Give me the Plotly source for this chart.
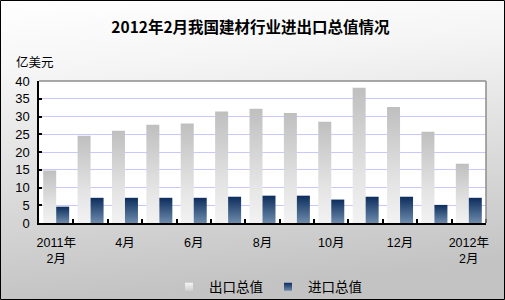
import base64
import plotly.graph_objects as go

# ---- data ----
months = ["2011年<br>2月", "3月", "4月", "5月", "6月", "7月", "8月", "9月",
          "10月", "11月", "12月", "2012年1月", "2012年<br>2月"]
tick_labels = ["2011年<br>2月", "", "4月", "", "6月", "", "8月", "", "10月", "", "12月", "", "2012年<br>2月"]
export_vals = [14.8, 24.6, 26.0, 27.7, 28.0, 31.4, 32.2, 31.0, 28.5, 38.1, 32.7, 25.7, 16.7]
import_vals = [4.6, 7.1, 7.1, 7.1, 7.1, 7.4, 7.7, 7.7, 6.6, 7.4, 7.4, 5.1, 7.1]
series_names = ["出口总值", "进口总值"]

FONT = "Liberation Sans, Arial, Noto Sans CJK SC, sans-serif"
BAR_W = 0.378
export_scale = [[0, "#f2f2f2"], [0.35, "#e4e4e4"], [1, "#bfbfbf"]]
import_scale = [[0, "#6e8bab"], [1, "#0c2d5d"]]

fig = go.Figure()

idx = list(range(len(months)))
for i, v in zip(idx, export_vals):
    fig.add_trace(go.Scatter(
        x=[i - BAR_W, i - BAR_W, i, i, i - BAR_W], y=[0, v, v, 0, 0],
        mode="none", fill="toself", showlegend=False, hoverinfo="skip",
        fillgradient=dict(type="vertical", colorscale=export_scale)))
for i, v in zip(idx, import_vals):
    fig.add_trace(go.Scatter(
        x=[i, i, i + BAR_W, i + BAR_W, i], y=[0, v, v, 0, 0],
        mode="none", fill="toself", showlegend=False, hoverinfo="skip",
        fillgradient=dict(type="vertical", colorscale=import_scale)))

# legend entries
fig.add_trace(go.Scatter(x=[None], y=[None], mode="markers", name=series_names[0],
                         marker=dict(symbol="square", size=8, color="#f4f4f4",
                                     gradient=dict(type="vertical", color="#d0d0d0"),
                                     line=dict(width=0))))
fig.add_trace(go.Scatter(x=[None], y=[None], mode="markers", name=series_names[1],
                         marker=dict(symbol="square", size=8, color="#0c2d5d",
                                     gradient=dict(type="vertical", color="#6e8bab"),
                                     line=dict(width=0))))

# background gradient via svg image
L, T, W, H = 39, 81, 447, 142
svg = ('<svg xmlns="http://www.w3.org/2000/svg" width="505" height="300">'
       '<defs><linearGradient id="g" x1="0" y1="0" x2="0.15" y2="1">'
       '<stop offset="0" stop-color="#ffffff"/><stop offset="0.25" stop-color="#f5f5f5"/>'
       '<stop offset="1" stop-color="#c3c3c3"/></linearGradient></defs>'
       '<rect width="505" height="300" fill="url(#g)"/></svg>')
src = "data:image/svg+xml;base64," + base64.b64encode(svg.encode()).decode()

def px_x(p):
    return (p - L) / W

def px_y(p):
    return 1 - (p - T) / H

fig.add_layout_image(dict(source=src, xref="paper", yref="paper",
                          x=px_x(0), y=px_y(0), sizex=505 / W, sizey=300 / H,
                          xanchor="left", yanchor="top", sizing="stretch", layer="below"))

shapes = [
    dict(type="rect", xref="paper", yref="paper", x0=0, x1=1, y0=0, y1=1,
         fillcolor="white", line=dict(width=0), layer="below"),
    dict(type="line", xref="paper", yref="paper", x0=0, x1=1, y0=1, y1=1,
         line=dict(color="#8c8c8c", width=1.5)),
    dict(type="line", xref="paper", yref="paper", x0=1, x1=1, y0=0, y1=1,
         line=dict(color="#8c8c8c", width=1.5)),
    dict(type="rect", xref="paper", yref="paper", x0=px_x(0.5), x1=px_x(504.5),
         y0=px_y(0.5), y1=px_y(299.5), line=dict(color="black", width=1)),
]

fig.update_layout(
    width=505, height=300,
    margin=dict(l=L, r=505 - L - W, t=T, b=300 - T - H, autoexpand=False),
    paper_bgcolor="white", plot_bgcolor="white",
    font=dict(family=FONT, size=12, color="black"),
    title=dict(text="<b>2012年2月我国建材行业进出口总值情况</b>", xref="container", x=0.496,
               xanchor="center", y=1 - 28 / 300, yanchor="middle",
               font=dict(family="Noto Sans CJK SC, sans-serif", size=15.5, color="black")),
    showlegend=True,
    legend=dict(orientation="h", xref="paper", x=px_x(268), xanchor="center",
                y=px_y(287), yanchor="middle", bgcolor="rgba(0,0,0,0)",
                font=dict(size=13.5, family="Noto Sans CJK SC, sans-serif"),
                itemwidth=30, tracegroupgap=0),
    xaxis=dict(range=[-0.5, len(months) - 0.5], tickmode="array", tickvals=idx,
               ticktext=tick_labels, ticks="", showgrid=False, zeroline=False,
               showline=True, linecolor="black", linewidth=1.5,
               tickfont=dict(size=12.5), tickangle=0, automargin=False, ticklabelstandoff=7,
               minor=dict(tickmode="array", tickvals=[i + 0.5 for i in idx[:-1]] + [len(months) - 0.5],
                          ticks="inside", ticklen=4, tickcolor="black", tickwidth=1.5, showgrid=False)),
    yaxis=dict(range=[0, 40], dtick=5, showgrid=True, gridcolor="#c8c8ff", gridwidth=1,
               zeroline=False, showline=True, linecolor="black", linewidth=1.5,
               ticks="inside", ticklen=3, tickcolor="black", tickwidth=1.5, automargin=False,
               tickfont=dict(size=13), ticklabelstandoff=5),
    shapes=shapes,
    annotations=[dict(text="亿美元", xref="paper", yref="paper", x=px_x(14), y=px_y(62),
                      xanchor="left", yanchor="middle", showarrow=False,
                      font=dict(size=12.5, family="Noto Sans CJK SC, sans-serif"))],
)

fig.write_html("out.html")
